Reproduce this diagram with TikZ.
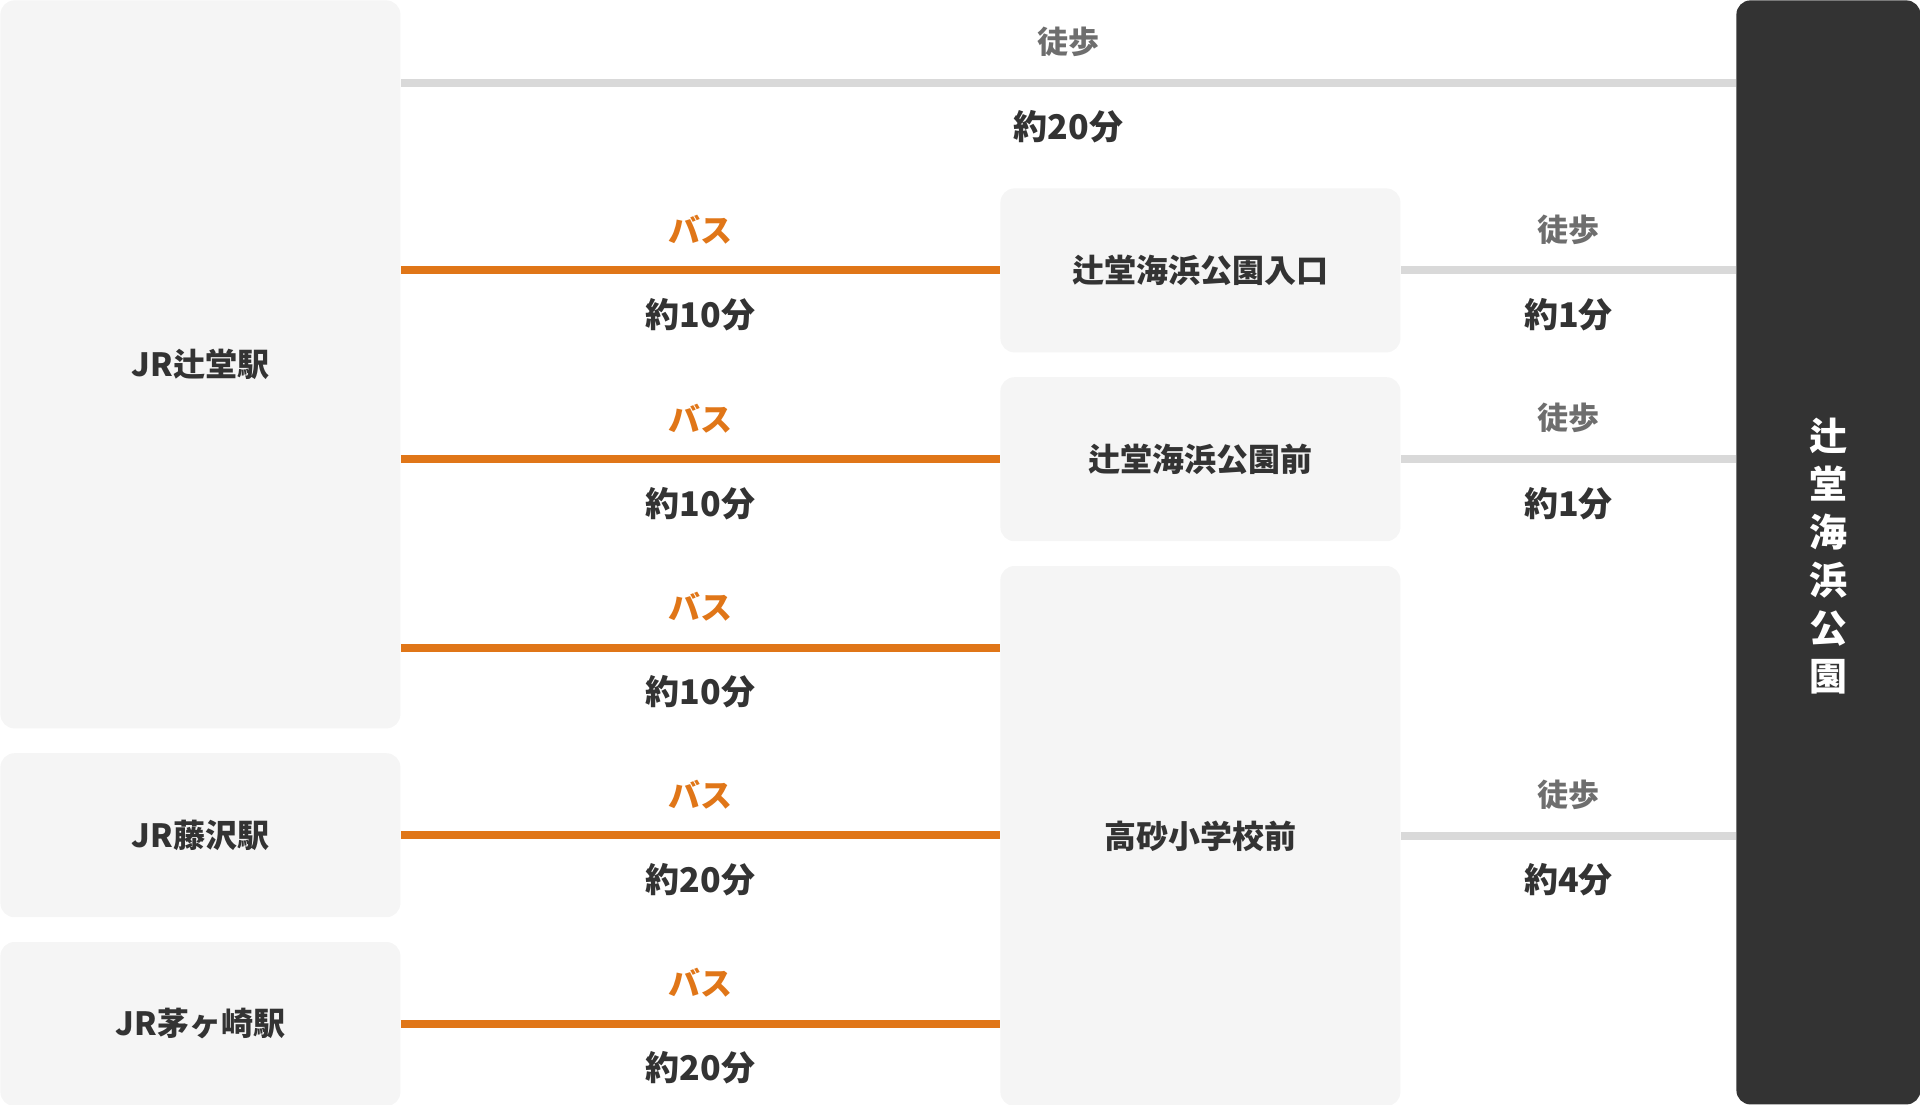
\documentclass[tikz,border=0pt]{standalone}
\usepackage{fontspec}
\setmainfont{Noto Sans CJK JP}
\usepackage{xcolor}
\usetikzlibrary{positioning}
\definecolor{busorange}{HTML}{E07618}
\definecolor{walkgrey}{HTML}{D9D9D9}
\definecolor{boxgrey}{HTML}{F5F5F5}
\definecolor{parkdark}{HTML}{333333}
\definecolor{labelgrey}{HTML}{6E6E6E}
\definecolor{textdark}{HTML}{333333}

\begin{document}
\begin{tikzpicture}[x=0.5pt, y=-0.5pt,
  every node/.style={font=\bfseries, text=textdark},
  stopbox/.style={rectangle, fill=boxgrey, rounded corners=7pt, inner sep=0pt, minimum width=200pt, minimum height=82pt, font=\fontsize{16}{19}\selectfont\bfseries},
  busline/.style={line width=4pt, busorange},
  walkline/.style={line width=4pt, walkgrey},
  buslabel/.style={yshift=20.5pt, text=busorange, font=\fontsize{16}{19}\selectfont\bfseries},
  walklabel/.style={yshift=20.5pt, text=labelgrey, font=\fontsize{15.5}{19}\selectfont\bfseries},
  timelabel/.style={yshift=-22pt, text=textdark, font=\fontsize{17}{20}\selectfont\bfseries}]
\useasboundingbox (0,0) rectangle (1920,1104);

% stations on the left
\node[stopbox, minimum height=364pt, anchor=north west] (tsujido) at (0,0) {JR辻堂駅};
\node[stopbox, below=12pt of tsujido] (fujisawa) {JR藤沢駅};
\node[stopbox, below=12pt of fujisawa] (chigasaki) {JR茅ヶ崎駅};

% bus stops
\node[stopbox, anchor=north west] (entrance) at (1000,188) {辻堂海浜公園入口};
\node[stopbox, below=12pt of entrance] (parkfront) {辻堂海浜公園前};
\node[stopbox, minimum height=270pt, below=12pt of parkfront] (takasago) {高砂小学校前};

% goal
\node[rectangle, fill=parkdark, rounded corners=7pt, minimum width=92pt, minimum height=552pt, anchor=north west] (park) at (1736,0) {};
\node[text=white, align=center, yshift=-2pt, font=\fontsize{19}{24}\selectfont\bfseries] (parkname) at (park.center) {辻\\堂\\海\\浜\\公\\園};

\coordinate (walkrow) at (0,83);
\coordinate (busrow) at (0,648);

% walking all the way
\draw[walkline] (tsujido.east |- walkrow) -- (park.west |- walkrow)
  node[midway, walklabel] {徒歩} node[midway, timelabel] {約20分};

% buses
\draw[busline] (entrance.west -| tsujido.east) -- (entrance.west)
  node[midway, buslabel] {バス} node[midway, timelabel] {約10分};
\draw[busline] (parkfront.west -| tsujido.east) -- (parkfront.west)
  node[midway, buslabel] {バス} node[midway, timelabel] {約10分};
\draw[busline] (tsujido.east |- busrow) -- (takasago.west |- busrow)
  node[midway, buslabel] {バス} node[midway, timelabel] {約10分};
\draw[busline] (fujisawa.east) -- (fujisawa.east -| takasago.west)
  node[midway, buslabel] {バス} node[midway, timelabel] {約20分};
\draw[busline] (chigasaki.east) -- (chigasaki.east -| takasago.west)
  node[midway, buslabel] {バス} node[midway, timelabel] {約20分};

% walking from the stops
\draw[walkline] (entrance.east) -- (entrance.east -| park.west)
  node[midway, walklabel] {徒歩} node[midway, timelabel] {約1分};
\draw[walkline] (parkfront.east) -- (parkfront.east -| park.west)
  node[midway, walklabel] {徒歩} node[midway, timelabel] {約1分};
\draw[walkline] (takasago.east) -- (takasago.east -| park.west)
  node[midway, walklabel] {徒歩} node[midway, timelabel] {約4分};
\end{tikzpicture}
\end{document}
